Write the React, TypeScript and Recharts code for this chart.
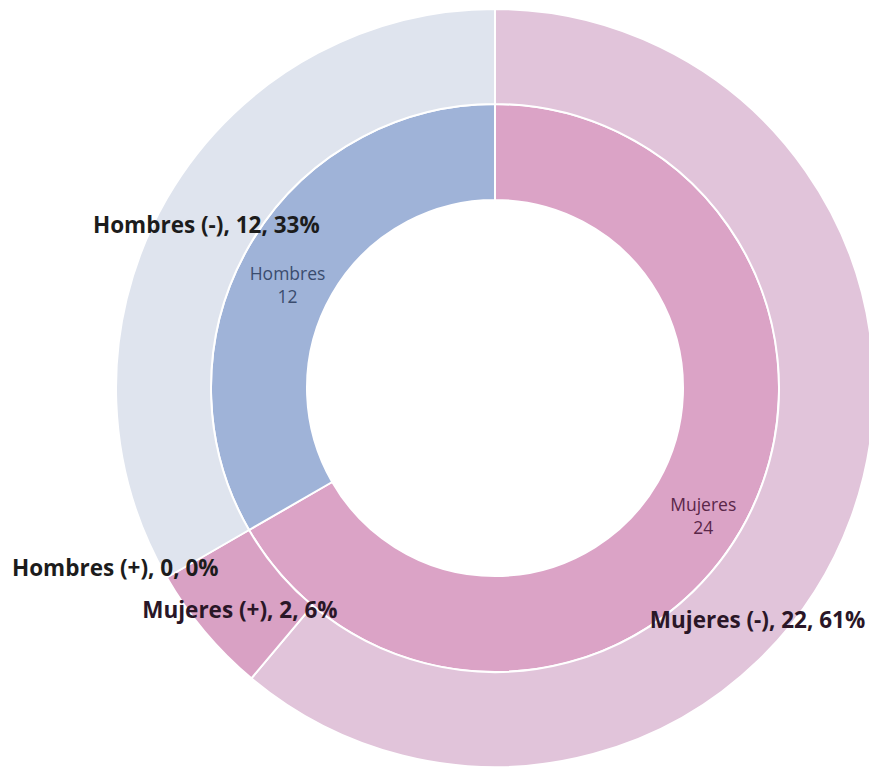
import React from 'react';
import { PieChart, Pie, Cell } from 'recharts';

const innerNames = ['Mujeres', 'Hombres'];
const innerValues = [24, 12];
const innerColors = ['#dba3c6', '#9fb3d8'];

const outerNames = ['Mujeres (-)', 'Mujeres (+)', 'Hombres (+)', 'Hombres (-)'];
const outerValues = [22, 2, 0, 12];
const outerColors = ['#e1c4da', '#d9a1c4', '#dfe4ee', '#dfe4ee'];

const innerData = innerNames.map((name, i) => ({ name, value: innerValues[i] }));
const outerData = outerNames.map((name, i) => ({ name, value: outerValues[i] }));

// label placement (polar: degrees, px from centre)
const outerLabelPos: Record<string, { angle: number; r: number }> = {
  'Hombres (-)': { angle: 150.4, r: 332 },
  'Hombres (+)': { angle: 205.3, r: 420 },
  'Mujeres (+)': { angle: 221, r: 338 },
  'Mujeres (-)': { angle: -41.4, r: 350 },
};
const innerLabelPos: Record<string, { angle: number; r: number }> = {
  Hombres: { angle: 153.4, r: 232 },
  Mujeres: { angle: -31.4, r: 244 },
};
const innerLabelColor: Record<string, string> = {
  Hombres: '#3a4c6e',
  Mujeres: '#5a2649',
};

const RAD = Math.PI / 180;
const FONT = '"Open Sans", "Noto Sans", sans-serif';

const total = outerValues.reduce((a, b) => a + b, 0);

const renderOuterLabel = (props: any) => {
  const { cx, cy, name, value } = props;
  const pos = outerLabelPos[name];
  if (!pos) return null;
  const x = cx + pos.r * Math.cos(-pos.angle * RAD);
  const y = cy + pos.r * Math.sin(-pos.angle * RAD);
  const pct = Math.round((value / total) * 100);
  const color = name.startsWith('Mujeres') ? '#2a1627' : '#1c1c1c';
  return (
    <text
      x={x}
      y={y}
      textAnchor="middle"
      dominantBaseline="central"
      fontFamily={FONT}
      fontWeight={700}
      fontSize={22.5}
      fill={color}
    >
      {`${name}, ${value}, ${pct}%`}
    </text>
  );
};

const renderInnerLabel = (props: any) => {
  const { cx, cy, name, value } = props;
  const pos = innerLabelPos[name];
  if (!pos) return null;
  const x = cx + pos.r * Math.cos(-pos.angle * RAD);
  const y = cy + pos.r * Math.sin(-pos.angle * RAD);
  return (
    <text
      x={x}
      y={y}
      textAnchor="middle"
      fontFamily={FONT}
      fontSize={17.5}
      fill={innerLabelColor[name]}
    >
      <tspan x={x} dy={-4}>{name}</tspan>
      <tspan x={x} dy={23}>{value}</tspan>
    </text>
  );
};

export default function App() {
  return (
    <div style={{ position: 'absolute', left: 0, top: 0, width: 869, height: 774, background: '#fff', overflow: 'hidden' }}>
      <PieChart width={869} height={774} margin={{ top: 0, right: 0, bottom: 0, left: 0 }}>
        <Pie
          data={innerData}
          dataKey="value"
          nameKey="name"
          cx={495}
          cy={388}
          innerRadius={188}
          outerRadius={284}
          startAngle={90}
          endAngle={-270}
          stroke="#ffffff"
          strokeWidth={2}
          label={renderInnerLabel}
          labelLine={false}
          isAnimationActive={false}
        >
          {innerData.map((d, i) => (
            <Cell key={d.name} fill={innerColors[i]} />
          ))}
        </Pie>
        <Pie
          data={outerData}
          dataKey="value"
          nameKey="name"
          cx={495}
          cy={388}
          innerRadius={284}
          outerRadius={379}
          startAngle={90}
          endAngle={-270}
          stroke="#ffffff"
          strokeWidth={2}
          label={renderOuterLabel}
          labelLine={false}
          isAnimationActive={false}
        >
          {outerData.map((d, i) => (
            <Cell key={d.name} fill={outerColors[i]} />
          ))}
        </Pie>
      </PieChart>
    </div>
  );
}
